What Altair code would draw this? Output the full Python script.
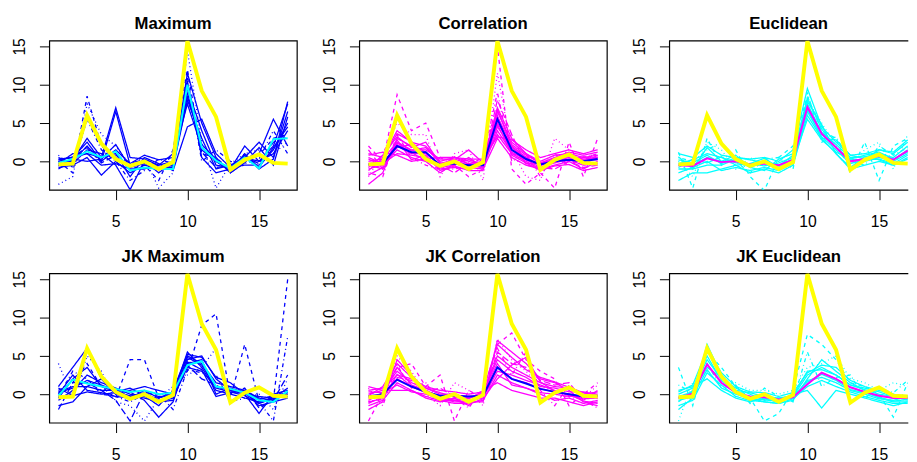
import altair as alt
import pandas as pd

X = list(range(1, 18))

YELLOW = [-0.4, -0.3, 6.0, 2.3, 0.3, -0.6, 0.0, -1.0, -0.1, 15.7, 9.2, 5.8, -1.1, 0.2, 0.9, -0.2, -0.3]

# ---------- Maximum (blue bundle, cyan centre) ----------
MAX_CENTER = [-0.2, 0.3, 1.3, 0.5, 1.3, -1.2, -0.8, -1.0, -1.0, 10.0, 1.8, 0.1, -0.9, 0.5, -0.9, 2.9, 3.0]
MAX_LINES = [
    [0.2, 0.5, 1.0, 0.5, 7.0, 0.5, 0.3, -0.5, 0.0, 9.0, 1.5, 0.0, -1.0, 0.5, 0.0, 1.0, 4.0],
    [-0.5, 0.0, 2.0, 0.0, 6.5, -0.5, 0.0, -0.8, -0.5, 11.5, 5.0, 0.5, -1.5, 0.0, 1.0, 5.5, 2.0],
    [-0.8, -0.5, 0.5, -1.8, 0.0, -1.5, -0.5, -1.0, -0.8, 8.0, 3.0, -1.0, -0.5, 0.5, 2.5, 0.5, 6.5],
    [0.5, -0.3, 1.5, 1.0, -0.5, -3.7, 0.0, -1.5, 0.0, 10.5, 0.5, -1.5, -1.0, 2.0, 0.0, 2.0, 7.5],
    [-1.0, 0.2, 3.0, 0.5, 1.0, -2.0, 0.5, -0.3, -1.2, 4.5, 5.5, 1.0, -0.8, -0.5, -0.5, 1.5, 5.0],
    [0.0, -1.5, 8.5, 2.0, 0.5, -1.0, -0.5, -2.5, 1.5, 12.0, 1.0, 0.5, -1.2, 0.3, 0.8, 3.0, 3.5],
    [-3.0, -2.0, 7.5, 3.5, 2.0, -0.5, 0.5, -3.5, -1.5, 14.5, 2.5, -3.5, -0.3, 1.0, 1.5, 1.0, 2.5],
    [0.3, 0.5, 2.5, 0.0, 1.5, -0.3, 0.8, 0.2, 0.5, 7.5, 1.8, 0.0, -1.3, 1.0, -0.8, 1.8, 4.5],
    [-0.3, 1.0, 1.0, -0.5, -0.3, -1.0, -1.0, -0.5, 1.0, 9.5, 4.0, -0.5, -0.8, 0.8, -1.0, 0.3, 7.8],
    [0.8, -0.8, 5.5, 1.5, 0.0, -2.5, -1.2, 0.3, -0.3, 11.0, 0.0, 1.5, 0.0, -0.3, 0.3, 4.0, 1.0],
    [-0.6, 0.3, 0.0, 0.3, 2.2, -0.8, -0.3, -1.0, -0.7, 8.5, 2.2, 0.3, -1.5, -0.2, 1.8, -0.5, 5.8],
    [0.0, 0.6, 1.8, -0.2, 0.8, -0.2, 0.2, -0.6, -0.4, 10.2, 1.2, -0.8, -0.6, 0.6, -0.3, 2.5, 3.2],
]
MAX_LTY = ["solid", "solid", "solid", "solid", "solid", "dashed", "dotted", "solid", "solid", "dotdash", "solid", "longdash"]

# ---------- Correlation (magenta bundle, blue centre) ----------
COR_CENTER = [-0.4, -0.3, 2.0, 1.2, 1.2, -0.5, -0.3, -0.5, -0.5, 5.5, 1.5, 0.3, -0.4, 0.0, 0.2, 0.0, 0.3]
COR_LINES = [
    [-0.5, -1.0, 2.0, 1.0, 1.0, -0.5, 0.0, -0.5, -0.5, 5.0, 2.0, 0.5, -0.5, 0.0, 0.5, 0.0, 0.5],
    [-3.0, -1.5, 3.0, 2.0, 0.5, -1.0, -0.8, -1.0, 0.0, 3.5, 1.0, 0.0, -1.0, -0.5, 0.0, -1.0, 0.0],
    [1.0, 0.5, 4.0, 2.5, 2.0, 0.0, 0.5, 0.0, -0.5, 6.5, 2.5, 1.0, 0.0, 0.8, 1.0, 0.5, 0.8],
    [2.0, 0.0, 8.7, 4.0, 5.0, 0.5, -0.5, -2.0, -1.0, 15.0, -1.0, -3.0, -1.5, -3.5, 2.5, -2.0, 3.0],
    [-1.0, -0.5, 1.5, 0.5, 0.0, -1.5, -0.3, -0.8, -1.0, 3.0, 0.5, -0.5, -1.0, 0.5, 0.2, -0.5, -0.3],
    [-2.0, 1.0, 5.0, 3.5, 3.5, -2.0, 1.0, 1.5, -2.5, 11.5, 1.5, -2.0, -2.5, 3.0, 1.5, 1.0, 1.5],
    [0.0, 0.3, 2.5, 1.5, 1.5, 0.3, 0.3, -0.3, 0.0, 7.0, 3.0, 1.0, -0.3, 0.3, 0.8, 0.3, 0.5],
    [-1.5, -2.0, 3.5, 0.5, -0.5, -1.0, -1.0, -0.5, 0.5, 9.0, 0.0, 1.0, -2.0, 1.0, -0.5, 0.5, 1.0],
    [0.5, -0.3, 1.0, 0.8, 0.5, -0.8, -0.5, 0.5, -0.8, 4.0, 1.2, 0.2, -0.8, -0.2, 0.3, 0.2, 0.2],
    [-0.8, 0.8, 3.2, 1.8, 2.5, -0.3, 0.2, 1.5, -0.2, 5.8, 2.2, 0.8, -0.2, 0.5, 1.2, 0.8, 1.2],
    [1.5, -1.0, 2.2, 1.2, 0.0, -0.5, -1.5, -0.2, -0.3, 8.0, 3.5, -0.5, -0.8, -1.0, 0.0, -0.8, -0.5],
    [-0.3, 0.0, 1.8, 2.2, 1.2, -0.6, 0.0, -0.6, -0.6, 4.5, 1.8, 0.4, -0.4, 0.2, 0.6, -0.2, 0.8],
    [-1.8, -0.8, 2.8, 0.2, 0.8, -1.2, -0.6, -1.2, -1.2, 6.0, 0.8, -0.2, -1.2, -0.6, -0.4, -1.2, -0.8],
    [0.8, 1.2, 0.8, 0.0, 0.3, 0.5, 0.5, 0.3, 0.3, 3.2, 2.8, 1.5, 0.5, 1.0, 1.5, 1.0, 1.5],
    [0.3, -0.6, 2.4, 1.4, 1.8, -0.2, -0.4, 0.2, -0.4, 4.8, 1.0, 0.6, -0.6, 0.4, 0.2, 0.6, 0.3],
    [-1.2, 0.4, 3.6, 2.6, 0.6, -0.8, 0.6, -0.4, -0.9, 6.8, 2.0, -0.3, -0.3, 0.0, 0.9, -0.4, 0.6],
]
COR_LTY = ["solid", "solid", "solid", "dashed", "solid", "dotted", "solid", "dotdash", "solid", "solid",
           "longdash", "solid", "solid", "solid", "solid", "solid"]

# ---------- Euclidean (cyan bundle, magenta centre) ----------
EUC_CENTER = [-0.5, -0.6, 0.4, -0.1, 0.0, -0.4, -0.3, -0.5, 0.2, 7.1, 3.6, 1.8, 0.0, 0.3, 0.7, 0.2, 1.4]
EUC_LINES = [
    [-0.5, -0.5, 0.5, 0.0, 0.0, -0.5, -0.3, -0.5, 0.3, 7.0, 3.5, 1.8, 0.0, 0.3, 0.8, 0.2, 1.5],
    [-2.5, -1.5, -1.5, -1.0, -0.5, -1.5, -1.0, -1.5, -0.5, 6.0, 3.0, 1.0, -1.0, -0.5, 0.0, -0.5, 0.5],
    [1.0, 0.5, 2.0, 0.8, 0.5, 0.3, 0.5, 0.0, 1.5, 9.5, 4.5, 2.5, 0.8, 1.0, 1.5, 1.0, 2.5],
    [1.2, -3.5, 3.0, -0.5, 1.5, -2.0, -3.8, 0.5, 2.0, 8.5, 4.0, 3.0, -1.5, 2.5, -2.5, 2.0, 3.0],
    [-1.0, -1.0, -0.5, -0.5, 0.3, -0.8, 0.0, -1.0, 0.0, 5.5, 2.8, 1.2, 0.3, 0.0, 0.5, 0.0, 1.0],
    [0.0, -2.0, 2.5, 1.5, -1.0, 0.5, -0.5, -1.0, 0.8, 8.0, 5.0, 2.0, -0.5, 1.5, 2.5, -1.0, 3.5],
    [-0.3, 0.2, 1.0, 0.5, -0.2, -0.3, -0.6, -0.2, 0.5, 7.5, 3.8, 2.2, 0.5, 0.6, 1.0, 0.5, 2.0],
    [-1.5, -0.8, 0.0, -1.2, -0.8, -1.2, -0.8, -1.2, -0.3, 6.5, 3.2, 1.5, -0.3, 0.2, 0.3, -0.3, 0.8],
    [0.5, 0.0, 1.5, 2.5, 0.0, -1.5, 0.3, 0.5, -1.0, 9.0, 2.5, 3.2, 0.0, -0.5, 2.0, 0.8, 1.8],
    [0.2, -0.2, 0.8, -0.3, 0.5, 0.2, -0.2, -0.6, 0.8, 8.2, 4.2, 1.8, 0.3, 0.8, 1.2, 0.3, 1.2],
    [-0.8, 0.3, -0.2, 0.6, -0.5, -0.3, 0.4, -0.8, 0.3, 6.8, 3.0, 2.8, 0.8, 0.3, 1.5, 1.2, 2.8],
    [0.6, -1.0, 1.8, 0.0, 0.8, -0.8, -1.2, 0.3, 1.0, 7.8, 4.8, 1.0, -0.8, 0.6, 0.2, -0.5, 0.3],
]
EUC_LTY = ["solid", "solid", "solid", "dashed", "solid", "dotted", "solid", "solid", "dotdash", "solid", "solid", "solid"]

# ---------- JK Maximum ----------
JKMAX_CENTER = [-0.2, 1.9, 1.4, 1.0, 0.7, 0.3, 0.5, 0.0, 0.2, 3.8, 4.3, 1.0, 0.7, 0.2, -0.8, -1.0, 0.4]
JKMAX_LINES = [
    [1.0, 3.5, 6.0, 2.0, 0.0, -0.5, 0.5, -0.5, 0.0, 5.5, 3.5, 0.5, 0.0, -0.5, -1.0, -0.5, 0.0],
    [-1.5, -1.0, 1.0, 0.5, 0.5, 0.3, -0.8, -3.0, -1.0, 4.5, 5.0, 2.0, 0.5, 0.0, -2.5, 0.0, 0.5],
    [0.5, 1.5, 4.0, 1.0, -0.5, 4.5, 4.5, -0.5, 0.5, 3.0, 9.0, 10.5, -0.5, 6.5, -1.0, -0.8, 15.0],
    [0.0, 2.5, 0.5, 0.2, -0.3, -0.5, 0.0, -1.0, -0.5, 3.5, 3.0, 1.0, 0.5, 0.3, -1.5, -1.0, -0.5],
    [-0.8, 0.5, 2.5, 1.5, 0.8, 0.0, -0.3, -0.5, 0.3, 5.0, 4.0, 1.5, 1.0, 0.5, -0.5, -0.8, 0.3],
    [4.0, -0.5, 5.0, 3.0, -1.0, -1.5, -3.5, -0.5, 1.0, 2.5, 3.5, 6.0, -1.0, -0.5, 0.0, -2.0, 2.0],
    [0.3, 1.0, 1.0, 2.0, 0.0, 0.5, 1.0, 0.5, 0.0, 4.0, 4.5, 0.0, 0.8, 0.2, -1.2, -0.3, -0.3],
    [-0.3, 3.0, 2.0, 0.0, -0.3, -1.0, 0.0, 0.0, -2.0, 3.2, 2.8, 2.5, -1.0, 0.0, -1.0, -3.5, 7.5],
    [0.8, -0.2, 0.3, 0.0, 0.2, -0.2, -0.5, -1.0, -0.8, 4.2, 3.2, -0.3, 0.2, 0.5, -0.7, -0.2, 0.2],
    [-0.5, 2.0, 3.5, 1.0, 0.3, 0.8, -0.2, -1.5, 0.5, 5.2, 4.8, 2.2, 1.5, 0.0, -0.3, -0.5, 0.8],
    [-2.0, 1.5, 1.5, 0.5, -0.8, -3.5, 0.3, -0.3, -0.2, 3.8, 2.0, 1.2, 0.0, 0.8, -1.8, -0.8, 2.5],
    [0.2, 0.8, 1.8, 1.2, 0.5, -0.3, 0.2, -0.8, -0.3, 4.8, 3.8, 0.8, 0.3, -0.2, -1.2, -0.6, 0.0],
]
JKMAX_LTY = ["solid", "solid", "dashed", "solid", "solid", "dotted", "solid", "dotdash", "solid", "solid", "longdash", "solid"]

# ---------- JK Correlation ----------
JKCOR_CENTER = [-0.3, 0.0, 1.9, 1.0, 0.3, -0.2, -0.2, -0.3, -0.2, 3.5, 2.0, 1.4, 0.7, 0.3, 0.0, -0.3, -0.2]
JKCOR_LINES = [
    [-0.5, 0.0, 2.0, 1.0, 0.3, -0.2, -0.2, -0.3, -0.2, 3.5, 2.0, 1.5, 0.7, 0.3, 0.0, -0.3, -0.2],
    [-2.0, -1.0, 4.5, 2.5, 0.5, -0.5, -1.0, -1.0, -1.0, 7.0, 5.5, 4.0, 2.0, 1.5, 0.5, -1.0, -1.5],
    [1.0, 0.5, 0.5, 0.5, -0.5, -1.0, -0.5, -1.5, 0.5, 1.5, 0.5, 0.0, -0.5, -0.5, -1.0, -1.5, -1.0],
    [-3.5, 0.0, 3.5, 4.0, 1.0, 2.5, -3.5, 0.5, -0.5, 6.5, 8.0, 4.5, 3.0, 2.0, -1.5, 0.0, 1.5],
    [0.0, 0.5, 3.0, 1.5, 0.8, 0.0, 0.0, -0.5, 0.0, 5.0, 3.5, 2.5, 1.5, 1.0, 0.8, 0.0, 0.3],
    [-1.0, -0.5, 5.0, 3.0, 0.0, -1.5, 1.5, 0.5, -1.5, 7.2, 4.5, 3.0, 1.0, 0.5, -0.5, -0.5, 1.2],
    [-1.5, -0.8, 1.5, 0.5, -0.3, -0.8, -1.2, -1.2, -0.8, 2.5, 1.5, 0.8, 0.0, -0.8, -0.5, -1.2, -0.8],
    [0.5, 0.8, 2.5, 2.0, 1.0, 0.5, 0.3, 0.0, 0.3, 4.5, 3.0, 2.2, 1.0, 0.8, 0.3, 0.3, 0.0],
    [0.8, -1.5, 3.8, 0.8, 1.5, -1.0, -0.5, -1.8, 0.8, 6.0, 2.5, 5.5, 0.5, -1.5, 1.2, -0.8, -1.8],
    [-0.8, 0.2, 1.2, 0.3, 0.0, -0.6, -0.6, -0.8, -0.5, 3.0, 2.5, 1.8, 1.2, 0.5, -0.2, -0.6, -0.5],
    [-1.2, -0.3, 2.2, 1.8, 0.3, 0.8, -0.3, -0.3, -0.3, 5.5, 4.0, 3.5, 1.8, 1.2, 1.5, -0.8, 0.5],
    [0.3, 0.2, 3.5, 1.2, 0.5, -0.3, -0.8, -1.0, 0.2, 4.0, 1.2, 0.8, 0.2, 0.0, -0.3, -0.2, -0.5],
    [-0.2, 1.0, 4.0, 2.2, 0.8, 0.2, -0.4, -0.6, 0.4, 6.5, 4.8, 3.2, 2.2, 1.6, 0.9, 0.2, -0.2],
    [-1.0, -0.6, 2.6, 1.0, 0.2, -0.9, -0.8, -1.3, -0.6, 2.0, 3.8, 4.8, 1.6, 0.4, 0.0, -0.9, -1.2],
]
JKCOR_LTY = ["solid", "solid", "solid", "dashed", "solid", "dotted", "solid", "solid", "dotdash", "solid",
             "longdash", "solid", "solid", "solid"]

# ---------- JK Euclidean ----------
JKEUC_CENTER = [-0.5, 0.1, 3.9, 1.5, 0.2, -0.3, -0.4, -0.7, -0.4, 1.3, 2.8, 2.0, 0.9, 0.3, -0.2, -0.5, -0.5]
JKEUC_LINES = [
    [-0.5, 0.1, 3.9, 1.5, 0.2, -0.3, -0.4, -0.7, -0.4, 1.3, 2.8, 2.0, 0.9, 0.3, -0.2, -0.5, -0.5],
    [-2.0, -0.5, 6.5, 2.5, 0.5, -0.5, -1.0, -1.2, -0.8, 2.0, 4.5, 3.0, 1.5, 0.5, -0.5, -1.0, -1.0],
    [0.5, 1.0, 2.0, 0.5, -0.5, -1.0, -0.5, -1.0, 0.0, 0.5, -1.8, 0.5, 0.0, -0.5, -1.0, -1.5, -1.0],
    [3.5, -1.5, 5.5, 3.5, 1.0, -0.5, -3.5, -2.5, 0.5, 7.8, 6.5, 4.5, 1.5, 1.0, 0.0, -3.0, 1.5],
    [-1.0, 0.5, 4.5, 2.0, 0.8, 0.0, -0.8, -0.5, -0.3, 2.5, 3.5, 2.5, 1.2, 0.8, 0.3, -0.3, -0.8],
    [-3.5, 1.5, 3.0, 1.0, 1.5, 0.5, 0.5, 0.0, 0.5, 3.5, 4.0, 5.0, 2.0, 1.5, 0.5, 1.5, 1.0],
    [0.0, 0.8, 5.0, 1.8, 0.3, -0.5, -0.2, -0.8, -0.5, 1.8, 2.2, 1.5, 0.5, 0.0, -0.6, -0.8, -0.3],
    [-1.5, -0.8, 2.8, 1.2, -0.3, -0.8, -1.0, -1.2, -0.6, 1.0, 1.8, 1.0, 0.3, -0.3, -0.8, -1.2, -1.2],
    [1.2, 0.2, 4.0, 0.8, 1.2, -1.2, 0.8, -0.3, -1.0, 5.5, 1.0, 2.2, 2.5, -0.5, 0.8, 0.2, 1.8],
    [-0.3, 0.3, 3.5, 2.2, 0.5, 0.2, -0.3, -0.5, -0.2, 3.0, 3.2, 2.5, 1.2, 0.6, 0.0, -0.3, -0.2],
    [0.3, 1.2, 5.8, 2.8, 1.0, 0.3, 0.2, -0.3, 0.2, 2.8, 3.8, 3.5, 1.8, 1.0, 0.5, 0.0, -0.5],
    [-0.8, -0.3, 3.2, 0.8, 0.0, -0.6, -0.7, -1.0, -0.2, 1.6, 2.6, 1.8, 0.6, 0.2, -0.4, -0.9, -0.7],
]
JKEUC_LTY = ["solid", "solid", "solid", "dashed", "solid", "dotted", "solid", "solid", "dotdash", "solid", "solid", "solid"]

BLUE, MAGENTA, CYAN, YEL = "#0000FF", "#FF00FF", "#00FFFF", "#FFFF00"

LTY_DOMAIN = ["solid", "dashed", "dotted", "dotdash", "longdash"]
LTY_RANGE = [[1, 0], [4, 4], [1, 3], [1, 3, 4, 3], [7, 3]]

FONT = "Liberation Sans"
H = 152
PX_PER_X = 252 / 17.28          # horizontal scale of every panel
X0 = 0.36                       # left end of every x domain
YDOM = [-3.72, 15.77]


def panel(title, lines, ltys, col, center, ccol, width=252, open_right=False):
    rows = []
    for i, (ys, lt) in enumerate(zip(lines, ltys)):
        for x, y in zip(X, ys):
            rows.append({"series": f"s{i}", "x": x, "y": y, "lty": lt})
    df = pd.DataFrame(rows)
    cdf = pd.DataFrame({"x": X, "y": center})
    ydf = pd.DataFrame({"x": X, "y": YELLOW})

    xscale = alt.Scale(domain=[X0, X0 + width / PX_PER_X], nice=False, zero=False)
    yscale = alt.Scale(domain=YDOM, nice=False, zero=False)

    xenc = alt.X("x:Q", scale=xscale,
                 axis=alt.Axis(values=[5, 10, 15], title=None, grid=False, domain=False,
                               tickSize=10, tickColor="black", labelFontSize=16, labelFont=FONT,
                               labelColor="black", labelPadding=14, labelFlush=False))
    yenc = alt.Y("y:Q", scale=yscale,
                 axis=alt.Axis(values=[0, 5, 10, 15], title=None, grid=False, domain=False,
                               tickSize=10, tickColor="black", labelFontSize=16, labelFont=FONT,
                               labelColor="black", labelAngle=270, labelAlign="center",
                               labelBaseline="alphabetic", labelPadding=15, labelFlush=False))

    bundle = alt.Chart(df).mark_line(color=col, strokeWidth=1.3, clip=True).encode(
        x=xenc, y=yenc, detail="series:N",
        strokeDash=alt.StrokeDash("lty:N", scale=alt.Scale(domain=LTY_DOMAIN, range=LTY_RANGE), legend=None),
    )
    cline = alt.Chart(cdf).mark_line(color=ccol, strokeWidth=2, clip=True).encode(x="x:Q", y="y:Q")
    yline = alt.Chart(ydf).mark_line(color=YEL, strokeWidth=4, clip=True).encode(x="x:Q", y="y:Q")

    props = dict(
        width=width, height=H,
        title=alt.TitleParams(title, fontSize=17, font=FONT, fontWeight="bold", color="black",
                              anchor="middle", frame="group", baseline="alphabetic", offset=-8),
    )
    if open_right:
        # box open on the right side: top edge, (gap for right edge), bottom + left edges
        props["view"] = alt.ViewBackground(stroke="black", strokeWidth=1.2,
                                           strokeDash=[width, H, width + H])
    return alt.layer(bundle, cline, yline).properties(**props)


p1 = panel("Maximum", MAX_LINES, MAX_LTY, BLUE, MAX_CENTER, CYAN)
p2 = panel("Correlation", COR_LINES, COR_LTY, MAGENTA, COR_CENTER, BLUE)
p3 = panel("Euclidean", EUC_LINES, EUC_LTY, CYAN, EUC_CENTER, MAGENTA, width=243, open_right=True)
p4 = panel("JK Maximum", JKMAX_LINES, JKMAX_LTY, BLUE, JKMAX_CENTER, CYAN)
p5 = panel("JK Correlation", JKCOR_LINES, JKCOR_LTY, MAGENTA, JKCOR_CENTER, BLUE)
p6 = panel("JK Euclidean", JKEUC_LINES, JKEUC_LTY, CYAN, JKEUC_CENTER, MAGENTA, width=243, open_right=True)

chart = alt.vconcat(
    alt.hconcat(p1, p2, p3, spacing=23.5),
    alt.hconcat(p4, p5, p6, spacing=23.5),
    spacing=17,
).properties(
    padding={"left": 3, "top": 2, "right": 0, "bottom": 0},
    background="white",
).configure_view(stroke="black", strokeWidth=1.2)

chart.save("out.html", embed_options={"renderer": "svg", "actions": False})
